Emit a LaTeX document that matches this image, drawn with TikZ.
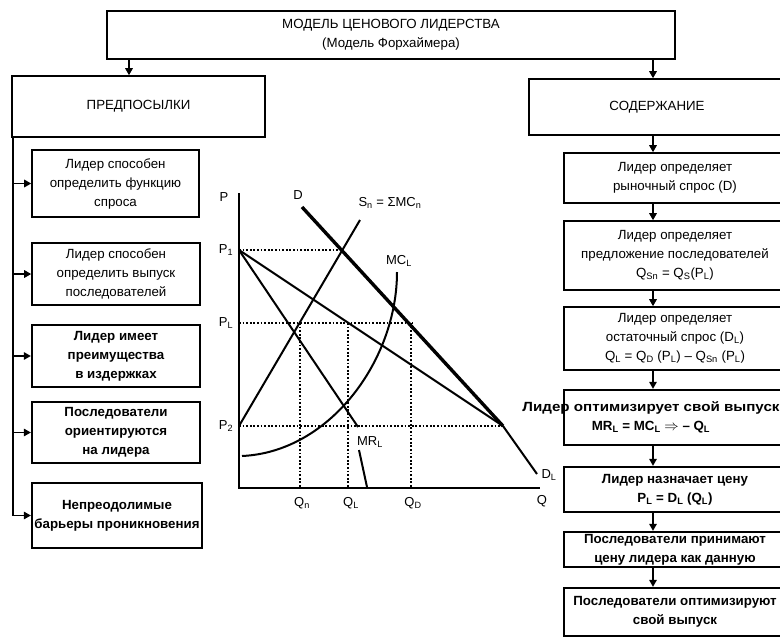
\documentclass[tikz,border=0pt]{standalone}
\usepackage{fontspec}
\setmainfont{Liberation Sans}
\usetikzlibrary{arrows.meta}
\newcommand\lsub[1]{\textsubscript{#1}}
\newcommand\fsz{\fontsize{13.3}{19}\selectfont}
\newcommand\gsz{\fontsize{13}{15}\selectfont}
\begin{document}
\begin{tikzpicture}[x=1pt,y=-1pt,
  box/.style={draw, line width=1.6pt, inner sep=0pt, align=center, font=\fsz},
  bbox/.style={box, line width=2.3pt, font=\fsz\bfseries},
  arr/.style={line width=1.5pt, -{Triangle[length=7pt,width=7.5pt]}},
  ln/.style={line width=1.5pt},
  crv/.style={line width=2pt},
  thk/.style={line width=3.4pt},
  dot/.style={line width=1.8pt, dash pattern=on 1.8pt off 1.8pt},
  glab/.style={font=\gsz, inner sep=0pt}]
\useasboundingbox (0,0) rectangle (780,638);
\clip (0,0) rectangle (780,638);
% ---------- boxes ----------
\node[box, minimum width=568pt, minimum height=48pt] (title) at (391,35)
  {МОДЕЛЬ ЦЕНОВОГО ЛИДЕРСТВА\\(Модель Форхаймера)};
\node[box, minimum width=253pt, minimum height=61pt] (pre) at (138.5,106.5) {ПРЕДПОСЫЛКИ};
\node[box, minimum width=256pt, minimum height=56pt] (cont) at (657,107) {СОДЕРЖАНИЕ};
% left column
\node[box, minimum width=167pt, minimum height=67pt] (A) at (115.5,183.5)
  {Лидер способен\\определить функцию\\спроса};
\node[box, minimum width=168pt, minimum height=62pt] (B) at (116,274)
  {Лидер способен\\определить выпуск\\последователей};
\node[bbox, minimum width=168pt, minimum height=62pt] (C) at (116,356)
  {Лидер имеет\\преимущества\\в издержках};
\node[bbox, minimum width=168pt, minimum height=61pt] (D) at (116,432.5)
  {Последователи\\ориентируются\\на лидера};
\node[bbox, minimum width=170pt, minimum height=65pt] (E) at (117,515.5)
  {Непреодолимые\\барьеры проникновения};
% right column
\node[box, minimum width=222pt, minimum height=50pt] (R1) at (675,178)
  {Лидер определяет\\рыночный спрос (D)};
\node[box, minimum width=222pt, minimum height=69pt] (R2) at (675,255.5)
  {Лидер определяет\\предложение последователей\\Q\lsub{Sn} = Q\lsub{S}(P\lsub{L})};
\node[box, minimum width=222pt, minimum height=63pt] (R3) at (675,338.5)
  {Лидер определяет\\остаточный спрос (D\lsub{L})\\Q\lsub{L} = Q\lsub{D} (P\lsub{L}) – Q\lsub{Sn} (P\lsub{L})};
\node[bbox, minimum width=222pt, minimum height=55pt] (R4) at (675,417.5) {};
\node[font=\fsz\bfseries, align=center, inner sep=0pt] (R4t) at (651,417.5)
  {\scalebox{1.14}[1]{Лидер оптимизирует свой выпуск}\\MR\lsub{L} = MC\lsub{L} $\Rightarrow$ – Q\lsub{L}};
\node[bbox, minimum width=222pt, minimum height=45pt] (R5) at (675,489.5)
  {Лидер назначает цену\\P\lsub{L} = D\lsub{L} (Q\lsub{L})};
\node[bbox, minimum width=222pt, minimum height=35pt] (R6) at (675,549.5)
  {Последователи принимают\\цену лидера как данную};
\node[bbox, minimum width=222pt, minimum height=48pt] (R7) at (675,612)
  {Последователи оптимизируют\\свой выпуск};
% ---------- connectors ----------
\coordinate (la) at (129,0);
\coordinate (ra) at (653,0);
\coordinate (sp) at (13,0);
\draw[arr] (title.south -| la) -- (pre.north -| la);
\draw[arr] (title.south -| ra) -- (cont.north -| ra);
\draw[ln] (pre.south -| sp) -- (sp |- E.west);
\foreach \b in {A,B,C,D,E} \draw[arr] (sp |- \b.west) -- (\b.west);
\draw[arr] (cont.south -| ra) -- (R1.north -| ra);
\draw[arr] (R1.south -| ra) -- (R2.north -| ra);
\draw[arr] (R2.south -| ra) -- (R3.north -| ra);
\draw[arr] (R3.south -| ra) -- (R4.north -| ra);
\draw[arr] (R4.south -| ra) -- (R5.north -| ra);
\draw[arr] (R5.south -| ra) -- (R6.north -| ra);
\draw[arr] (R6.south -| ra) -- (R7.north -| ra);
% ---------- graph ----------
\coordinate (O) at (239,488);
\coordinate (Ptop) at (239,193);
\coordinate (Qend) at (540,488);
\coordinate (P1) at (239,250);
\coordinate (PL) at (239,323);
\coordinate (P2) at (239,426);
\coordinate (Dtop) at (302,207);
\coordinate (K) at (503,426);
\coordinate (DLend) at (537,474);
\coordinate (Sntop) at (360,220);
\coordinate (MRa) at (358,427);
\coordinate (MRb) at (359,450);
\coordinate (MRc) at (367,487);
\coordinate (Qn) at (300,323);
\coordinate (QL) at (348,323);
\coordinate (QD) at (411,323);
% dotted
\draw[dot] (P1) -- (342,250);
\draw[dot] (PL) -- (412,323);
\draw[dot] (P2) -- (K);
\draw[dot] (Qn) -- (Qn |- O);
\draw[dot] (QL) -- (QL |- O);
\draw[dot] (QD) -- (QD |- O);
% curves
\draw[thk] (Dtop) -- (K);
\draw[crv] (K) -- (DLend);
\draw[crv] (P1) -- (K);
\draw[crv] (P1) -- (MRa);
\draw[crv] (MRb) -- (MRc);
\draw[crv] (P2) -- (Sntop);
\draw[crv] (242,456) .. controls (330,452) and (397,360) .. (397,272);
% axes
\draw[line width=2.2pt] (Ptop) -- (O) -- (Qend);
% labels
\node[glab] (lP) at (224,197) {P};
\node[glab] (lP1) at (226,250) {P\lsub{1}};
\node[glab] (lPL) at (226,323) {P\lsub{L}};
\node[glab] (lP2) at (226,426) {P\lsub{2}};
\node[glab] (lD) at (298,195) {D};
\node[glab] (lSn) at (390,203) {S\lsub{n} = ΣMC\lsub{n}};
\node[glab] (lMC) at (399,261) {MC\lsub{L}};
\node[glab] (lMR) at (370,442) {MR\lsub{L}};
\node[glab] (lDL) at (549,475) {D\lsub{L}};
\node[glab] (lQ) at (542,501) {Q};
\node[glab] (lQn) at (302,503) {Q\lsub{n}};
\node[glab] (lQL) at (351,503) {Q\lsub{L}};
\node[glab] (lQD) at (413,503) {Q\lsub{D}};
\end{tikzpicture}
\end{document}
